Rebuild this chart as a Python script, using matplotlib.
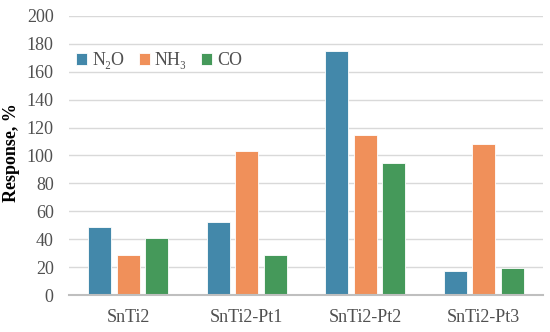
import matplotlib
matplotlib.use("Agg")
import matplotlib.pyplot as plt
import numpy as np

categories = ["SnTi2", "SnTi2-Pt1", "SnTi2-Pt2", "SnTi2-Pt3"]
series_names = ["N\u2082O", "NH\u2083", "CO"]
n2o = [48.5, 52, 175, 17]
nh3 = [29, 103.5, 115, 108]
co = [41, 28.5, 94.5, 19.5]
colors = ["#4388aa", "#f0905a", "#45995a"]

plt.rcParams['font.family'] = ['Liberation Serif', 'DejaVu Serif']

fig = plt.figure(figsize=(5.5, 3.32), dpi=100)
ax = fig.add_axes([0.1255, 0.1114, 0.8615, 0.8406])

x = np.arange(len(categories))
w = 0.195
step = 0.24
for i, (vals, name) in enumerate(zip([n2o, nh3, co], series_names)):
    ax.bar(x + (i - 1) * step, vals, width=w, color=colors[i], label=name,
           edgecolor="white", linewidth=0.6, zorder=3)

ax.set_xlim(-0.5, 3.5)
ax.set_ylim(0, 200)
ax.set_yticks(range(0, 201, 20))
ax.set_xticks(x)
ax.set_xticklabels(categories)
ax.tick_params(axis='both', length=0, labelsize=13, colors="#505050")
ax.tick_params(axis='x', pad=10)
ax.tick_params(axis='y', pad=11)
ax.grid(axis='y', color="#d9d9d9", linewidth=1.0, zorder=0)
for s in ["top", "right", "left"]:
    ax.spines[s].set_visible(False)
ax.spines["bottom"].set_color("#bfbfbf")
ax.spines["bottom"].set_linewidth(1.5)
ax.spines["bottom"].set_zorder(4)
ax.set_ylabel("Response, %", fontsize=13, fontweight="bold")
ax.yaxis.set_label_coords(-0.103, 0.51)

ax.legend(loc="upper left", bbox_to_anchor=(-0.012, 0.915), ncol=3, frameon=False,
          fontsize=13, handlelength=0.6, handleheight=0.6, handletextpad=0.3,
          columnspacing=0.8, labelcolor="#505050", borderpad=0.2)

fig.savefig("out.png", dpi=100)
